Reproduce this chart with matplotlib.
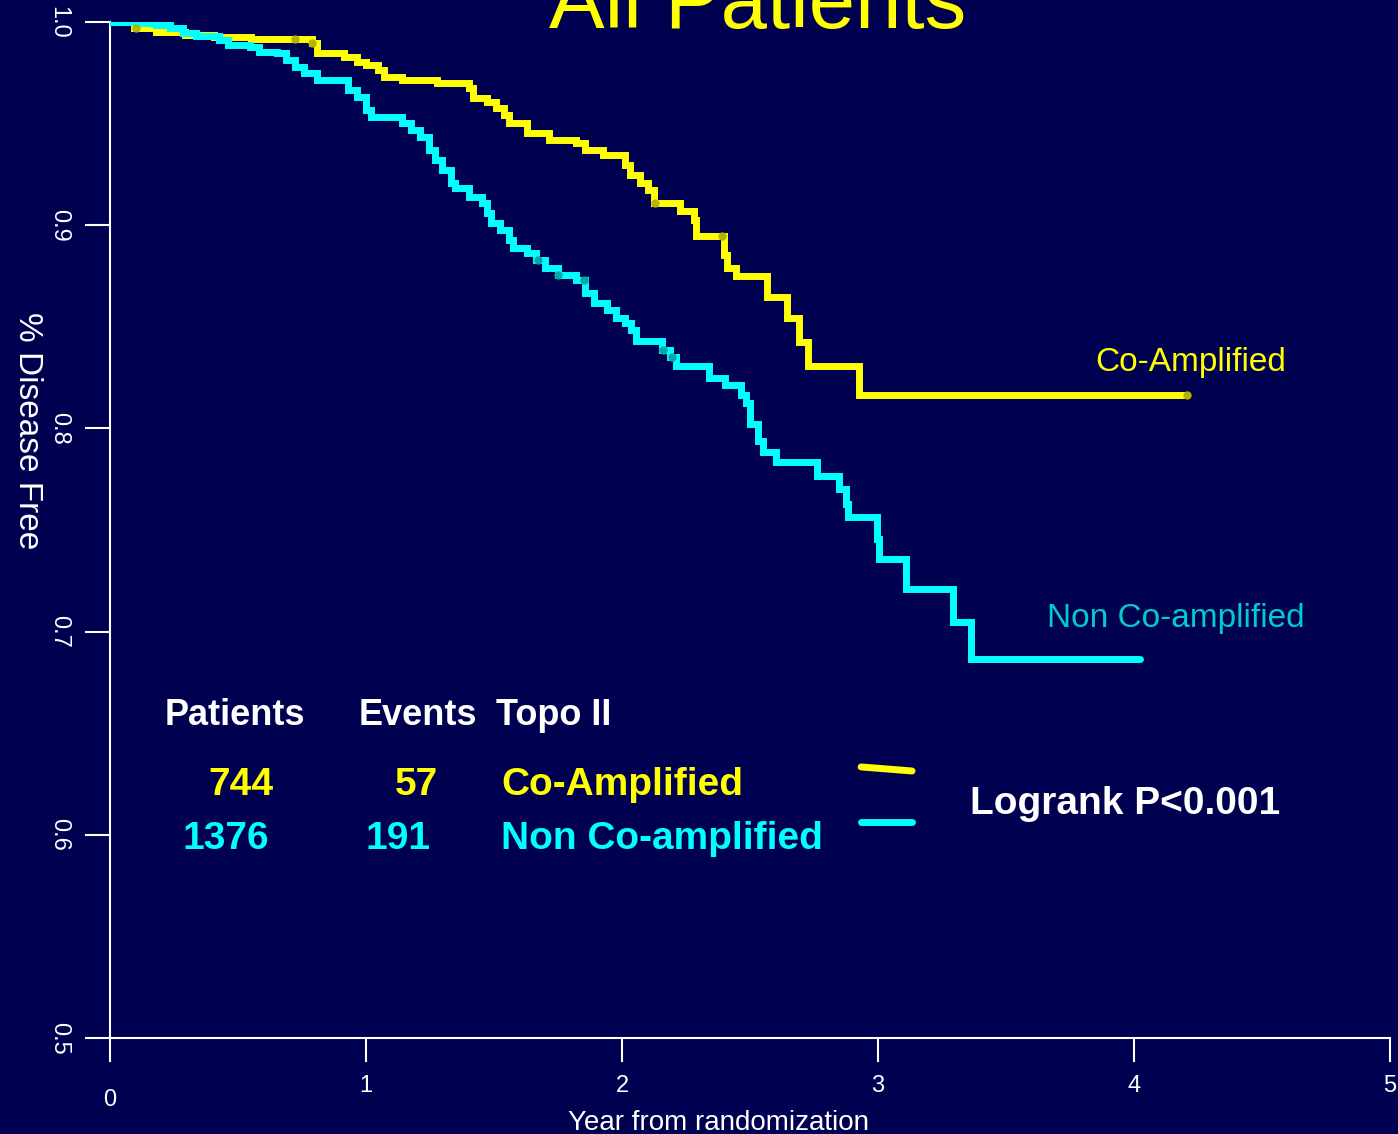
import numpy as np
import matplotlib.pyplot as plt

plt.rcParams['font.family'] = ['Liberation Sans', 'DejaVu Sans']

BG = '#000050'
YELLOW = '#ffff00'
CYAN = '#00ffff'

# Kaplan-Meier estimates: time of each step (years) and survival from then on
coamp_years = [0.000, 0.094, 0.180, 0.293, 0.406, 0.550, 0.789, 0.809, 0.914, 0.965,
               1.000, 1.047, 1.070, 1.141, 1.277, 1.402, 1.418, 1.473, 1.508, 1.539,
               1.559, 1.629, 1.715, 1.820, 1.855, 1.926, 2.012, 2.031, 2.070, 2.102,
               2.125, 2.227, 2.281, 2.289, 2.398, 2.410, 2.445, 2.566, 2.645, 2.691,
               2.727, 2.926, 4.207]
coamp_surv = [1.000, 0.9970, 0.9950, 0.9936, 0.9926, 0.9916, 0.9897, 0.9847, 0.9828, 0.9803,
              0.9788, 0.9764, 0.9729, 0.9715, 0.9700, 0.9675, 0.9626, 0.9606, 0.9577, 0.9542,
              0.9503, 0.9454, 0.9419, 0.9405, 0.9370, 0.9345, 0.9296, 0.9247, 0.9208, 0.9173,
              0.9109, 0.9070, 0.9026, 0.8947, 0.8853, 0.8789, 0.8750, 0.8647, 0.8543, 0.8425,
              0.8307, 0.8164, 0.8164]
coamp_censored = [0.10, 0.723, 0.79, 2.13, 2.39, 4.207]

noncoamp_years = [0.000, 0.109, 0.180, 0.234, 0.285, 0.336, 0.426, 0.461, 0.547, 0.582,
                  0.652, 0.688, 0.723, 0.758, 0.809, 0.930, 0.965, 1.000, 1.020, 1.141,
                  1.176, 1.211, 1.246, 1.270, 1.297, 1.332, 1.348, 1.402, 1.453, 1.473,
                  1.488, 1.523, 1.559, 1.574, 1.629, 1.664, 1.699, 1.750, 1.820, 1.855,
                  1.891, 1.941, 1.977, 2.012, 2.035, 2.055, 2.156, 2.188, 2.211, 2.340,
                  2.402, 2.465, 2.484, 2.500, 2.531, 2.551, 2.602, 2.762, 2.848, 2.875,
                  2.883, 2.996, 3.004, 3.109, 3.293, 3.363, 4.023]
noncoamp_surv = [1.000, 0.9995, 0.9985, 0.9970, 0.9946, 0.9931, 0.9911, 0.9887, 0.9877, 0.9852,
                 0.9847, 0.9813, 0.9779, 0.9749, 0.9715, 0.9665, 0.9631, 0.9567, 0.9532, 0.9503,
                 0.9469, 0.9434, 0.9370, 0.9321, 0.9272, 0.9208, 0.9183, 0.9139, 0.9109, 0.9060,
                 0.9011, 0.8976, 0.8927, 0.8888, 0.8863, 0.8829, 0.8789, 0.8755, 0.8730, 0.8666,
                 0.8617, 0.8583, 0.8543, 0.8519, 0.8484, 0.8430, 0.8386, 0.8351, 0.8307, 0.8248,
                 0.8214, 0.8164, 0.8125, 0.8022, 0.7938, 0.7884, 0.7835, 0.7766, 0.7702, 0.7628,
                 0.7564, 0.7456, 0.7357, 0.7210, 0.7047, 0.6865, 0.6865]
noncoamp_censored = [1.67, 1.75, 1.85, 2.16, 2.195]

group_names = ['Co-Amplified', 'Non Co-amplified']
n_patients = [744, 1376]
n_events = [57, 191]
pvalue_text = 'Logrank P<0.001'

x_ticks = [0, 1, 2, 3, 4, 5]
y_ticks = [0.5, 0.6, 0.7, 0.8, 0.9, 1.0]


def surv_at(years, surv, t):
    idx = np.searchsorted(years, t, side='right') - 1
    return np.asarray(surv)[idx]


fig = plt.figure(figsize=(13.98, 11.34), dpi=100, facecolor=BG)
ax = fig.add_axes([110 / 1398, 1 - 1038 / 1134, 1280 / 1398, 1016 / 1134])
ax.set_facecolor(BG)

ax.step(coamp_years, coamp_surv, where='post', color=YELLOW, lw=5,
        solid_capstyle='round', solid_joinstyle='miter', zorder=3)
ax.step(noncoamp_years, noncoamp_surv, where='post', color=CYAN, lw=5,
        solid_capstyle='round', solid_joinstyle='miter', zorder=4)

# censoring marks
ax.plot(coamp_censored, surv_at(coamp_years, coamp_surv, coamp_censored), 'o',
        color='#b4b400', ms=6, mec='none', zorder=5)
ax.plot(noncoamp_censored, surv_at(noncoamp_years, noncoamp_surv, noncoamp_censored), 'o',
        color='#00a8a8', ms=6, mec='none', zorder=5)

ax.set_xlim(0, 5)
ax.set_ylim(0.5, 1.0)
for s in ['top', 'right']:
    ax.spines[s].set_visible(False)
for s in ['left', 'bottom']:
    ax.spines[s].set_color('white')
    ax.spines[s].set_linewidth(1.5)

ax.set_xticks(x_ticks)
ax.set_xticklabels([''] + [str(v) for v in x_ticks[1:]])
ax.set_yticks(y_ticks)
ax.set_yticklabels(['%.1f' % v for v in y_ticks], rotation=270, va='center')
ax.tick_params(axis='x', colors='white', length=17, width=1.5, pad=10, labelsize=17)
ax.tick_params(axis='y', colors='white', length=18, width=1.5, pad=11, labelsize=17)
ax.text(0, 0.4695, '0', color='white', fontsize=17, ha='center', va='center', clip_on=False)

fig.text(758 / 1398, 1 - 28 / 1134, 'All Patients', color=YELLOW, fontsize=60,
         ha='center', va='baseline')
fig.text(27 / 1398, 1 - 431 / 1134, '% Disease Free', color='white', fontsize=24,
         rotation=270, ha='center', va='center')
fig.text(718 / 1398, 1 - 1130 / 1134, 'Year from randomization', color='white',
         fontsize=20, ha='center', va='baseline')

# curve labels
ax.text(3.848, 0.8282, group_names[0], color=YELLOW, fontsize=24, va='baseline')
ax.text(3.660, 0.7023, group_names[1], color='#00cccc', fontsize=24, va='baseline')

# summary table
bold = dict(fontsize=28, fontweight='bold', va='baseline')
ax.text(0.215, 0.654, 'Patients', color='white', fontsize=26, fontweight='bold', va='baseline')
ax.text(0.973, 0.654, 'Events', color='white', fontsize=26, fontweight='bold', va='baseline')
ax.text(1.508, 0.654, 'Topo II', color='white', fontsize=26, fontweight='bold', va='baseline')

ax.text(0.383, 0.6196, str(n_patients[0]), color=YELLOW, **bold)
ax.text(1.113, 0.6196, str(n_events[0]), color=YELLOW, **bold)
ax.text(1.527, 0.6196, group_names[0], color=YELLOW, **bold)
ax.text(0.285, 0.5930, str(n_patients[1]), color=CYAN, **bold)
ax.text(1.000, 0.5930, str(n_events[1]), color=CYAN, **bold)
ax.text(1.527, 0.5930, group_names[1], color=CYAN, **bold)

ax.plot([2.934, 3.133], [0.6334, 0.6314], color=YELLOW, lw=5, solid_capstyle='round')
ax.plot([2.934, 3.133], [0.6063, 0.6063], color=CYAN, lw=5, solid_capstyle='round')

ax.text(3.359, 0.6102, pvalue_text, color='white', **bold)

fig.savefig('out.png', dpi=100, facecolor=BG)
